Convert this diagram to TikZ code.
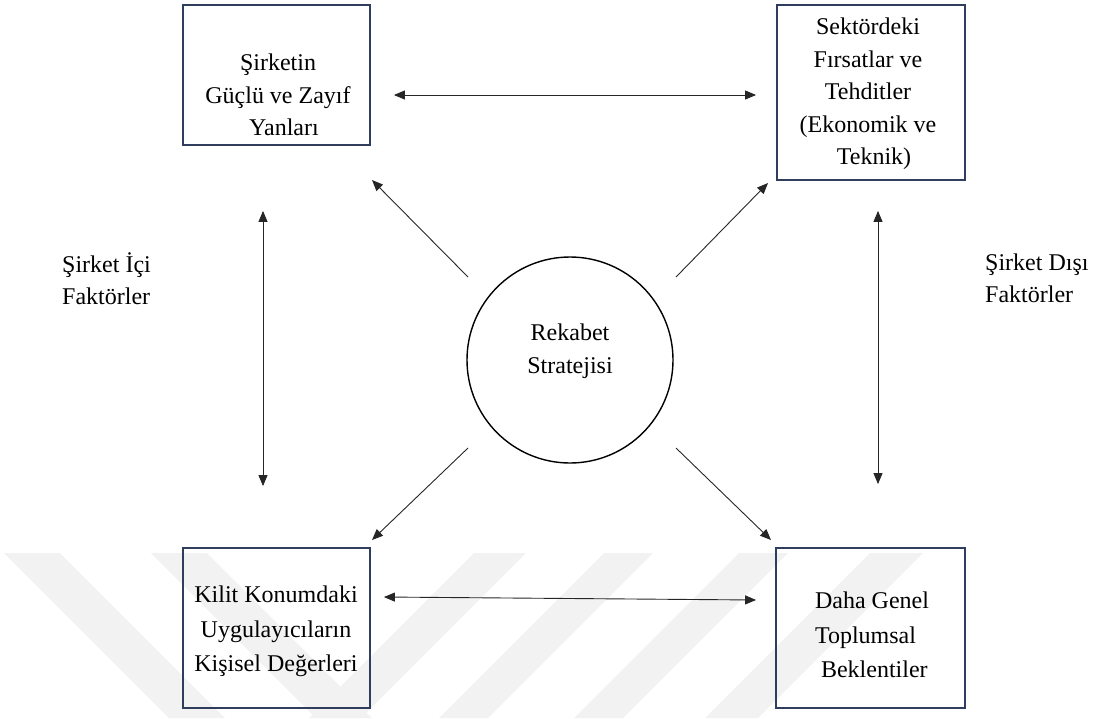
\documentclass[tikz,border=0pt]{standalone}
\usepackage{fontspec}
\setmainfont{Liberation Serif}
\usetikzlibrary{arrows.meta}
\definecolor{boxblue}{RGB}{47,62,95}
\definecolor{wmark}{RGB}{242,242,242}
\tikzset{
  blockbox/.style={draw=boxblue, line width=1.8pt, rectangle, inner sep=0pt},
  txt/.style={inner sep=0pt, align=center, font=\fontsize{24}{32.5}\selectfont},
  txtb/.style={inner sep=0pt, align=center, font=\fontsize{24}{34.5}\selectfont},
  link/.style={draw=black!85, line width=0.9pt, -{Triangle[length=11pt,width=9pt]}},
  bilink/.style={draw=black!85, line width=0.9pt, {Triangle[length=11pt,width=9pt]}-{Triangle[length=11pt,width=9pt]}},
  band/.style={fill=wmark, draw=none}
}
\begin{document}
\begin{tikzpicture}[x=1pt,y=-1pt]
\useasboundingbox (0,0) rectangle (1097,718);

% faint diagonal bands in the lower part
\fill[band] (4,553) -- (60,553) -- (225,718) -- (169,718) -- cycle;
\fill[band] (151,553) -- (207,553) -- (372,718) -- (316,718) -- cycle;
\fill[band] (474,553) -- (526,553) -- (361,718) -- (309,718) -- cycle;
\fill[band] (604,553) -- (653,553) -- (488,718) -- (439,718) -- cycle;
\fill[band] (739,553) -- (788,553) -- (623,718) -- (574,718) -- cycle;
\fill[band] (870,553) -- (923,553) -- (758,718) -- (705,718) -- cycle;

% the four factor boxes
\node[blockbox, minimum width=187pt, minimum height=140pt] (tl) at (276.5,75) {};
\node[blockbox, minimum width=188pt, minimum height=175pt] (tr) at (871,92.5) {};
\node[blockbox, minimum width=187pt, minimum height=160pt] (bl) at (276.5,628) {};
\node[blockbox, minimum width=189pt, minimum height=160pt] (br) at (870.5,628) {};

\node[txt] (tltext) at (278,95) {Şirketin\\Güçlü ve Zayıf\\\ \ Yanları};
\node[txt] (trtext) at (868,94) {Sektördeki\\Fırsatlar ve\\Tehditler\\(Ekonomik ve\\\ \ Teknik)};
\node[txtb] (bltext) at (276,631.5) {Kilit Konumdaki\\Uygulayıcıların\\Kişisel Değerleri};
\node[txtb, align=left] (brtext) at (872,635) {Daha Genel\\Toplumsal\\\hspace{6pt}Beklentiler};

% central strategy circle
\node[circle, draw=black, line width=1.4pt, minimum size=206pt, inner sep=0pt] (c) at (570,360) {};
\node[txt] (ctext) at (570,351) {Rekabet\\Stratejisi};

% side labels
\node[txt, align=left, anchor=west] (inner) at (62,278.5) {Şirket İçi\\Faktörler};
\node[txt, align=left, anchor=west] (outer) at (985,278.5) {Şirket Dışı\\Faktörler};

% mutual links between boxes
\draw[bilink] ([xshift=23pt,yshift=-20pt]tl.east) -- ([xshift=-20pt,yshift=-2.5pt]tr.west);
\draw[bilink] ([xshift=13pt,yshift=31pt]bl.east) -- ([xshift=-19pt,yshift=28pt]br.west);
\draw[bilink] ([xshift=-13.5pt,yshift=-65pt]tl.south) -- ([xshift=-13.5pt,yshift=61pt]bl.north);
\draw[bilink] ([xshift=7pt,yshift=-30pt]tr.south) -- ([xshift=7.5pt,yshift=63pt]br.north);

% links from the strategy outwards
\coordinate (s1) at (468,277);
\coordinate (s2) at (676,277);
\coordinate (s3) at (468,448);
\coordinate (s4) at (676,448);
\coordinate (e1) at (372,180);
\coordinate (e2) at (768,183);
\coordinate (e3) at (372,540);
\coordinate (e4) at (771,540);
\draw[link] (s1) -- (e1);
\draw[link] (s2) -- (e2);
\draw[link] (s3) -- (e3);
\draw[link] (s4) -- (e4);
\end{tikzpicture}
\end{document}
